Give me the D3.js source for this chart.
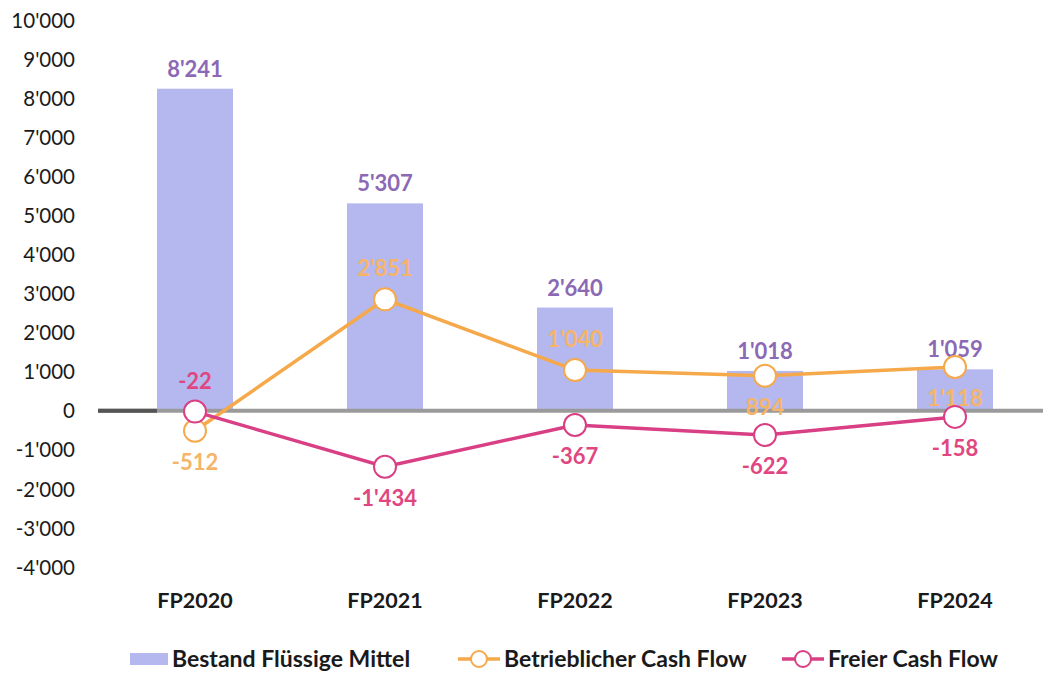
<!DOCTYPE html>
<html>
<head>
<meta charset="utf-8">
<script src="https://cdn.jsdelivr.net/npm/d3@7"></script>
<style>
  html, body { margin: 0; padding: 0; background: #fff; }
  svg { display: block; font-family: Lato, "Open Sans", sans-serif; }
</style>
</head>
<body>
<div id="chart"></div>
<script>
// Cash-flow overview: cash balance as bars, operating and free cash flow as lines.
const categories = ['FP2020', 'FP2021', 'FP2022', 'FP2023', 'FP2024'];
const cashBalance = [8241, 5307, 2640, 1018, 1059];
const operatingCF = [-512, 2851, 1040, 894, 1118];
const freeCF = [-22, -1434, -367, -622, -158];
const yTicks = [-4000, -3000, -2000, -1000, 0, 1000, 2000, 3000, 4000, 5000, 6000, 7000, 8000, 9000, 10000];
// label side per point: -1 above, 1 below
const operatingSide = [1, -1, -1, 1, 1];
const freeSide = [-1, 1, 1, 1, 1];
const legendItems = ['Bestand Flüssige Mittel', 'Betrieblicher Cash Flow', 'Freier Cash Flow'];

(function(){
  const width = 1043, height = 674;
  const svg = d3.select('#chart').append('svg').attr('width', width).attr('height', height);

  const colBar = '#b4b8ef', colBarText = '#8b69b5';
  const colOp = '#f5a94a', colOpText = '#f5b468';
  const colFree = '#d93f84', colFreeText = '#e0467f';

  // swiss thousands separator
  const fmt = v => {
    const s = d3.format(',')(Math.abs(v)).replace(/,/g, "'");
    return (v < 0 ? '-' : '') + s;
  };

  const x = d3.scaleBand().domain(categories).range([100, 1050]).padding(0);
  const y = d3.scaleLinear().domain([-4000, 10000]).range([567, 20]);
  const cx = c => x(c) + x.bandwidth() / 2;
  const barW = x.bandwidth() * 0.4;

  // y axis labels only (no axis line)
  const yAxis = d3.axisLeft(y).tickValues(yTicks).tickFormat(fmt).tickSize(0).tickPadding(0);
  const yg = svg.append('g').attr('transform', 'translate(75,0)').call(yAxis);
  yg.select('.domain').remove();
  yg.selectAll('text').attr('font-size', 20.5).attr('fill', '#1a1a1a').attr('dy', '0.35em')
    .attr('font-family', 'Lato, sans-serif');

  // bars
  svg.append('g').selectAll('rect')
    .data(categories)
    .join('rect')
    .attr('x', c => cx(c) - barW / 2)
    .attr('width', barW)
    .attr('y', (c, i) => y(cashBalance[i]))
    .attr('height', (c, i) => y(0) - y(cashBalance[i]))
    .attr('fill', colBar);

  // zero line
  svg.append('line').attr('x1', 98).attr('x2', 1043).attr('y1', y(0)).attr('y2', y(0))
    .attr('stroke', '#9a9a9a').attr('stroke-width', 4);
  svg.append('line').attr('x1', 98).attr('x2', x(categories[0]) + x.bandwidth() * 0.3).attr('y1', y(0)).attr('y2', y(0))
    .attr('stroke', '#555').attr('stroke-width', 4);

  // category labels
  const xAxis = d3.axisBottom(x).tickSize(0).tickPadding(0);
  const xg = svg.append('g').attr('transform', 'translate(0,593)').call(xAxis);
  xg.select('.domain').remove();
  xg.selectAll('text').attr('font-size', 21.5).attr('font-weight', 'bold').attr('fill', '#1a1a1a')
    .attr('font-family', 'Lato, sans-serif').attr('dy', '0.71em');

  // bar value labels
  svg.append('g').selectAll('text')
    .data(categories)
    .join('text')
    .attr('x', c => cx(c))
    .attr('y', (c, i) => y(cashBalance[i]) - 12)
    .attr('text-anchor', 'middle')
    .attr('font-size', 22).attr('font-weight', 'bold')
    .attr('fill', colBarText)
    .text((c, i) => fmt(cashBalance[i]));

  function series(values, sides, color, textColor){
    const pts = categories.map((c, i) => ({c, v: values[i], side: sides[i]}));
    const line = d3.line().x(d => cx(d.c)).y(d => y(d.v));
    svg.append('path').datum(pts)
      .attr('d', line).attr('fill', 'none')
      .attr('stroke', color).attr('stroke-width', 3.5);
    svg.append('g').selectAll('circle').data(pts).join('circle')
      .attr('cx', d => cx(d.c)).attr('cy', d => y(d.v)).attr('r', 11)
      .attr('fill', '#fff').attr('stroke', color).attr('stroke-width', 2);
    svg.append('g').selectAll('text').data(pts).join('text')
      .attr('x', d => cx(d.c))
      .attr('y', d => y(d.v) + (d.side < 0 ? -23 : 39))
      .attr('text-anchor', 'middle')
      .attr('font-size', 22).attr('font-weight', 'bold')
      .attr('fill', textColor)
      .text(d => fmt(d.v));
  }
  series(operatingCF, operatingSide, colOp, colOpText);
  series(freeCF, freeSide, colFree, colFreeText);

  // legend
  const lg = svg.append('g').attr('transform', 'translate(0,659)');
  const legendX = [130, 458, 782];
  const legendColors = [colBar, colOp, colFree];
  legendItems.forEach((label, i) => {
    const g = lg.append('g').attr('transform', `translate(${legendX[i]},0)`);
    if(i === 0){
      g.append('rect').attr('x', 0).attr('y', -6).attr('width', 38).attr('height', 12).attr('fill', colBar);
    } else {
      g.append('line').attr('x1', 0).attr('x2', 42).attr('stroke', legendColors[i]).attr('stroke-width', 3.5);
      g.append('circle').attr('cx', 21).attr('r', 8).attr('fill', '#fff')
        .attr('stroke', legendColors[i]).attr('stroke-width', 2);
    }
    g.append('text').attr('x', i === 0 ? 42 : 46).attr('dy', '0.35em')
      .attr('font-size', 23).attr('font-weight', 'bold').attr('fill', '#1a1a1a')
      .text(label);
  });
})();
</script>
</body>
</html>
